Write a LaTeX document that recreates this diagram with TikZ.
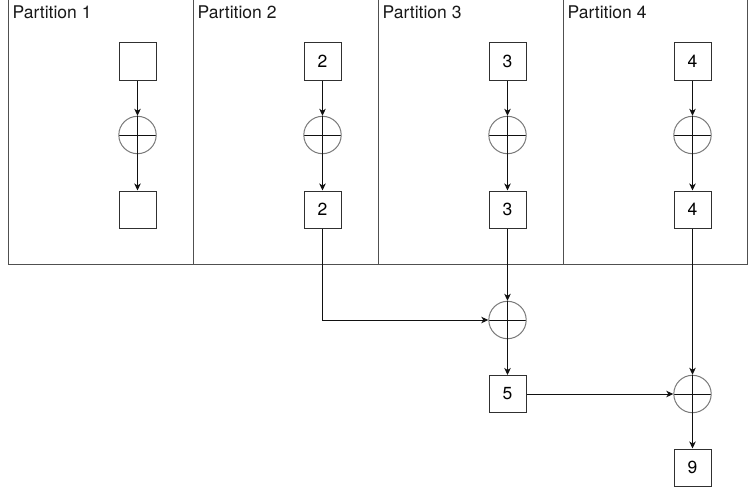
\documentclass[tikz,border=0pt]{standalone}
\usepackage{fontspec}
\setmainfont{TeX Gyre Heros}
\usetikzlibrary{arrows.meta}
\definecolor{partline}{HTML}{505050}
\definecolor{boxline}{HTML}{303030}
\definecolor{circline}{HTML}{7A7A7A}
\definecolor{wireline}{HTML}{111111}
\tikzset{
  x=1pt, y=-1pt,
  partbox/.style={draw=partline, line width=1pt, minimum width=185pt, minimum height=266pt, inner sep=0pt, anchor=north west},
  partlabel/.style={font=\fontsize{17.5}{20}\selectfont, anchor=base west, inner sep=0pt, text=black!90},
  valbox/.style={draw=boxline, line width=1pt, minimum size=37pt, inner sep=0pt, font=\fontsize{17.5}{20}\selectfont},
  sumnode/.style={circle, draw=circline, line width=1pt, minimum size=37.4pt, inner sep=0pt,
    path picture={\draw[wireline, line width=1pt] (path picture bounding box.north) -- (path picture bounding box.south)
      (path picture bounding box.west) -- (path picture bounding box.east);}},
  wire/.style={draw=wireline, line width=1pt, -{Stealth[length=7pt, width=6.5pt, inset=2pt]}},
}
\begin{document}
\begin{tikzpicture}
\useasboundingbox[fill=white] (0,0) rectangle (754,495);
% partitions
\node[partbox] (p1) at (8,-2) {};
\node[partbox] (p2) at (193,-2) {};
\node[partbox] (p3) at (378,-2) {};
\node[partbox, minimum width=184pt] (p4) at (563,-2) {};
\node[partlabel] (l1) at (12.5,19) {Partition 1};
\node[partlabel] (l2) at (197.5,19) {Partition 2};
\node[partlabel] (l3) at (382.5,19) {Partition 3};
\node[partlabel] (l4) at (567.5,19) {Partition 4};
% partition 1
\node[valbox] (a1) at (137.5,61.5) {};
\node[sumnode] (s1) at (137.5,135) {};
\node[valbox] (b1) at (137.5,209.5) {};
% partition 2
\node[valbox] (a2) at (322.5,61.5) {2};
\node[sumnode] (s2) at (322.5,135) {};
\node[valbox] (b2) at (322.5,209.5) {2};
% partition 3
\node[valbox] (a3) at (507.5,61.5) {3};
\node[sumnode] (s3) at (507.5,135) {};
\node[valbox] (b3) at (507.5,209.5) {3};
% partition 4
\node[valbox] (a4) at (692.5,61.5) {4};
\node[sumnode] (s4) at (692.5,135) {};
\node[valbox] (b4) at (692.5,209.5) {4};
% merge
\node[sumnode] (m1) at (507.5,320) {};
\node[valbox] (r5) at (507.5,394) {5};
\node[sumnode] (m2) at (692.5,394) {};
\node[valbox] (r9) at (692.5,467.5) {9};
% wires
\foreach \i in {1,2,3,4}{
  \draw[wire] (a\i.south) -- (s\i.north);
  \draw[wire] (s\i.north) -- (b\i.north);
}
\draw[wire] (b2.south) |- (m1.west);
\draw[wire] (b3.south) -- (m1.north);
\draw[wire] (m1.north) -- (r5.north);
\draw[wire] (r5.east) -- (m2.west);
\draw[wire] (b4.south) -- (m2.north);
\draw[wire] (m2.north) -- (r9.north);
\end{tikzpicture}
\end{document}
